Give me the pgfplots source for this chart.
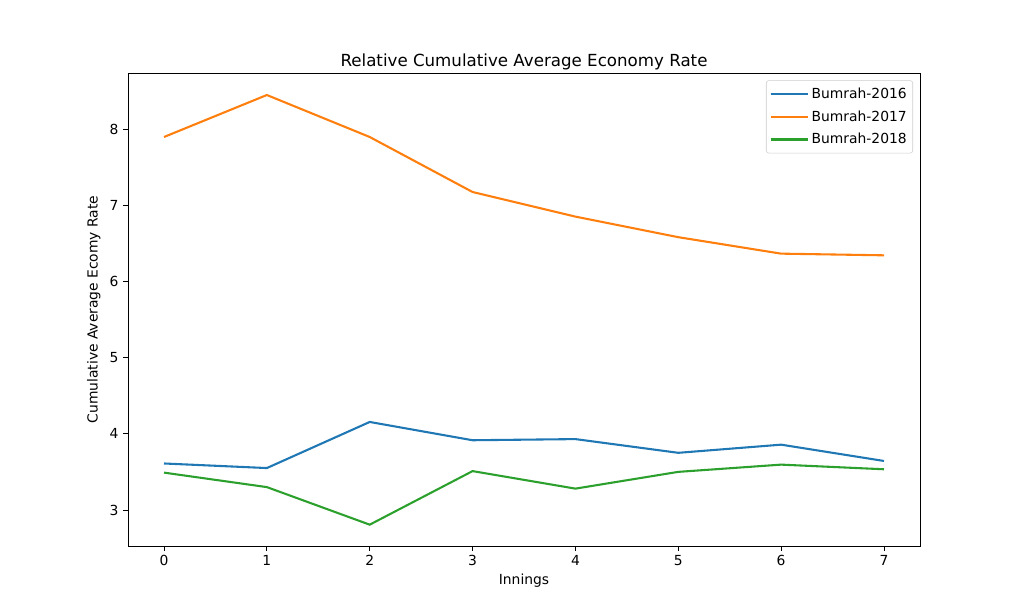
\documentclass[border=0pt]{standalone}
\usepackage{pgfplots}
\pgfplotsset{compat=1.18}
\usepackage{fontspec}
\setmainfont{DejaVu Sans}

\definecolor{tabblue}{RGB}{31,119,180}
\definecolor{taborange}{RGB}{255,127,14}
\definecolor{tabgreen}{RGB}{44,160,44}
\definecolor{legendgray}{RGB}{204,204,204}

\begin{document}
\begin{tikzpicture}
\begin{axis}[
at={(96pt,51pt)}, anchor=south west,
scale only axis,
width=594pt, height=354.75pt,
xmin=-0.35, xmax=7.35,
ymin=2.527, ymax=8.735,
xtick={0,1,2,3,4,5,6,7},
ytick={3,4,5,6,7,8},
tick align=outside,
tick pos=left,
major tick length=3.65pt,
axis line style={line width=0.6pt},
tick style={line width=0.6pt, color=black},
/pgf/number format/assume math mode=true,
tick label style={font=\fontsize{10.4}{12}\selectfont},
label style={font=\fontsize{10.4}{12}\selectfont},
title style={font=\fontsize{12.5}{14}\selectfont, yshift=-7.5pt},
title={Relative Cumulative Average Economy Rate},
xlabel={Innings},
ylabel={Cumulative Average Ecomy Rate},
xlabel style={yshift=1pt},
legend cell align={left},
legend style={
  at={(1,1)}, anchor=north east, xshift=-5.25pt, yshift=-5.5pt,
  draw=legendgray, rounded corners=2pt,
  font=\fontsize{10.4}{12}\selectfont,
  row sep=3.6pt, inner xsep=2.5pt, inner ysep=3.5pt
},
legend image code/.code={%
  \draw[#1] (0pt,0pt) -- (22.5pt,0pt);
  \path (0pt,0pt) -- (28pt,0pt);},
]
\addplot [line width=1.56pt, tabblue] table {%
0 3.61
1 3.55
2 4.155
3 3.915
4 3.93
5 3.75
6 3.857
7 3.643
};
\addlegendentry{Bumrah-2016}
\addplot [line width=1.56pt, taborange] table {%
0 7.895
1 8.446
2 7.895
3 7.173
4 6.85
5 6.58
6 6.364
7 6.342
};
\addlegendentry{Bumrah-2017}
\addplot [line width=1.56pt, tabgreen] table {%
0 3.49
1 3.30
2 2.807
3 3.51
4 3.28
5 3.50
6 3.595
7 3.534
};
\addlegendentry{Bumrah-2018}
\end{axis}
\pgfresetboundingbox
\useasboundingbox (0,0) rectangle (767.25pt,460.5pt);
\end{tikzpicture}
\end{document}
